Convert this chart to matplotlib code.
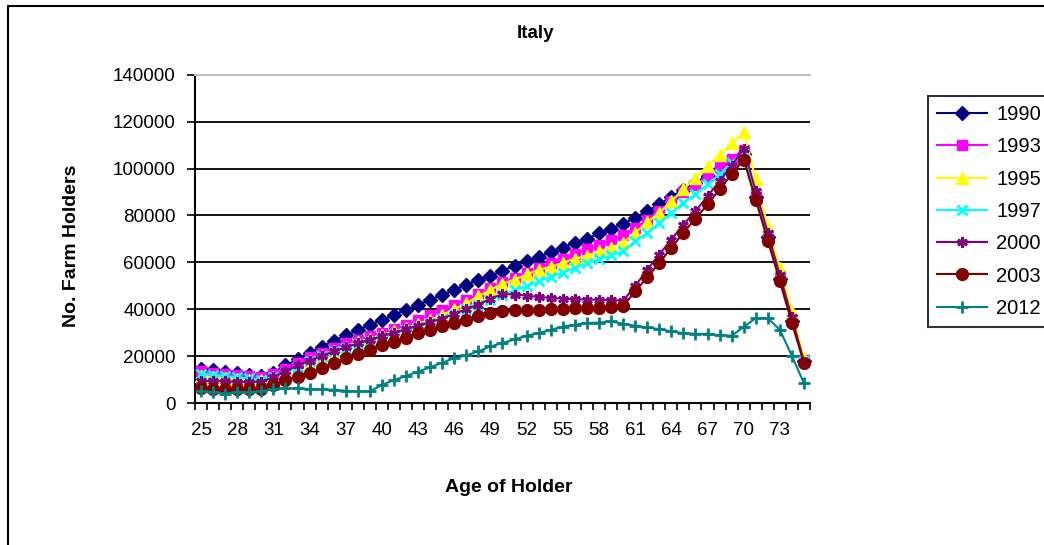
import matplotlib
matplotlib.use("Agg")
import matplotlib.pyplot as plt
from matplotlib.patches import Rectangle
import numpy as np

plt.rcParams['font.family'] = ['Liberation Sans', 'DejaVu Sans']

ages = list(range(25, 76))

y1990 = [14500, 14000, 13300, 12700, 12100, 11600, 13000, 16000, 18600, 21500,
         24000, 26500, 29000, 31000, 33300, 35400, 37600, 39700, 41800, 44000,
         46100, 48200, 50400, 52500, 54300, 56400, 58500, 60500, 62400, 64300,
         66200, 68400, 70000, 72300, 74300, 76400, 79000, 81900, 84700, 88000,
         91000, 94000, 97000, 100000, 103000, 106000, 88000, 71000, 53000, 35000, 18000]
y1993 = [13500, 13000, 12500, 12000, 11500, 11000, 12200, 14500, 17000, 19500,
         21500, 23500, 25500, 27000, 28500, 30000, 31500, 33300, 35400, 37600,
         39700, 41800, 44000, 46500, 49000, 51500, 53500, 55500, 57500, 59500,
         61500, 63500, 65500, 67500, 69500, 71500, 74500, 78000, 82000, 86000,
         89800, 93000, 97000, 100500, 104000, 108000, 89000, 71500, 54000, 35500, 18400]
y1995 = [11500, 11000, 10500, 10200, 10000, 9800, 11000, 13000, 15500, 18000,
         20000, 22000, 24000, 26000, 27500, 29000, 30500, 32000, 33800, 35500,
         37500, 40000, 42500, 45500, 48300, 50900, 52600, 54800, 56900, 58000,
         59700, 61500, 62800, 64700, 66300, 68300, 72600, 77100, 81100, 86000,
         91100, 96100, 101100, 105800, 110700, 115500, 95500, 75000, 57500, 39000, 19000]
y1997 = [12500, 12000, 11500, 11000, 10500, 10000, 11000, 13000, 15500, 18000,
         20000, 22000, 23500, 25000, 26500, 28000, 29500, 31000, 32500, 34000,
         36000, 38000, 40000, 42000, 44100, 46200, 48000, 49800, 51900, 53800,
         55500, 57600, 59500, 61200, 62900, 64700, 69000, 72600, 76900, 81100,
         85400, 89000, 93200, 97500, 102500, 107400, 89000, 71000, 54000, 35500, 18000]
y2000 = [9500, 9300, 9200, 9000, 9000, 9000, 11000, 13500, 16000, 18000,
         20000, 22000, 23800, 25500, 27000, 28500, 30000, 31500, 33000, 34500,
         36000, 38000, 40000, 42000, 44500, 46500, 46200, 45800, 45200, 44800,
         44500, 44300, 44100, 44000, 43800, 43600, 49800, 56900, 63300, 69700,
         76100, 81800, 88200, 94600, 101100, 108500, 90400, 72600, 54500, 36500, 17500]
y2003 = [6200, 6000, 5900, 5800, 5800, 5800, 7700, 9600, 11300, 13000,
         14800, 17000, 19000, 21000, 22700, 24800, 26200, 27600, 29700, 31200,
         32900, 34300, 35400, 36900, 38300, 39200, 39700, 39700, 39800, 40000,
         40200, 40400, 40500, 40700, 41000, 41200, 47600, 53600, 59700, 66200,
         72600, 78600, 84700, 91100, 97500, 103800, 86700, 69200, 51900, 34100, 17000]
y2012 = [5000, 4700, 4000, 4500, 4700, 5000, 5800, 6200, 6200, 6000,
         5800, 5600, 5200, 5000, 5000, 7700, 9800, 11500, 13400, 15200,
         17200, 19100, 20300, 22000, 24100, 25600, 27100, 28700, 29800, 31200,
         32600, 33400, 34100, 34300, 34800, 33800, 32900, 32200, 31500, 30500,
         29800, 29500, 29500, 28900, 28700, 32400, 36200, 36200, 31200, 20100, 8400]

series_labels = ['1990', '1993', '1995', '1997', '2000', '2003', '2012']
series_values = [y1990, y1993, y1995, y1997, y2000, y2003, y2012]
colors = ['#000080', '#FF00FF', '#FFFF00', '#00FFFF', '#800080', '#800000', '#008080']
markers = ['D', 's', '^', 'x', (6, 2, 0), 'o', '+']
msizes = [7, 7, 8, 6.5, 7.5, 8.5, 8]

yticks = list(range(0, 140001, 20000))
xlabel_ticks = list(range(25, 74, 3))

W, H = 1044, 545
fig = plt.figure(figsize=(W / 100, H / 100), dpi=100)

# chart border
fig.patches.append(Rectangle((8 / W, -0.1), 1.2, 1 - 6 / H + 0.1, transform=fig.transFigure,
                             fill=False, edgecolor='black', linewidth=1.5))

ax_l, ax_r, ax_t, ax_b = 195, 810, 74.7, 403
ax = fig.add_axes([ax_l / W, 1 - ax_b / H, (ax_r - ax_l) / W, (ax_b - ax_t) / H])

for lab, vals, c, m, ms in zip(series_labels, series_values, colors, markers, msizes):
    mew = 2 if m in ('x', '+', (6, 2, 0)) else 1
    ax.plot(ages, vals, color=c, marker=m, markersize=ms, linewidth=1.5,
            markeredgewidth=mew, markeredgecolor=c, markerfacecolor=c, label=lab,
            clip_on=False, zorder=3)

ax.set_xlim(24.5, 75.5)
ax.set_ylim(0, 140000)
ax.set_yticks(yticks)
ax.set_yticklabels([str(v) for v in yticks])
for v in yticks[1:-1]:
    ax.axhline(v, color='black', linewidth=1.3, zorder=1)

ax.set_xticks(np.arange(24.5, 75.6, 1.0))
ax.set_xticklabels([])
ax.set_xticks(xlabel_ticks, minor=True)
ax.set_xticklabels([str(v) for v in xlabel_ticks], minor=True)
ax.tick_params(axis='x', which='major', length=5, width=1.2, direction='out')
ax.tick_params(axis='x', which='minor', length=0, pad=14, labelsize=13.5)
ax.tick_params(axis='y', length=6, width=1.2, direction='out', pad=8, labelsize=13.5)

for s in ['left', 'bottom']:
    ax.spines[s].set_linewidth(1.5)
    ax.spines[s].set_color('black')
ax.spines['right'].set_visible(False)
ax.spines['top'].set_color('#c0c0c0')
ax.spines['top'].set_linewidth(1.5)

fig.text(535 / W, 1 - 33 / H, 'Italy', ha='center', va='center', fontsize=13.5, fontweight='bold')
fig.text(72 / W, 1 - 246 / H, 'No. Farm Holders', ha='center', va='center', rotation=90,
         fontsize=14, fontweight='bold')
fig.text(509 / W, 1 - 488 / H, 'Age of Holder', ha='center', va='center',
         fontsize=14, fontweight='bold')

leg = fig.legend(loc='upper left', bbox_to_anchor=(928 / W, 1 - 96 / H), frameon=True,
                 fontsize=14.5, handlelength=2.5, labelspacing=0.66, borderpad=0.45,
                 handletextpad=0.45, fancybox=False, borderaxespad=0)
leg.get_frame().set_edgecolor('black')
leg.get_frame().set_linewidth(1.5)

fig.savefig('out.png', dpi=100)
